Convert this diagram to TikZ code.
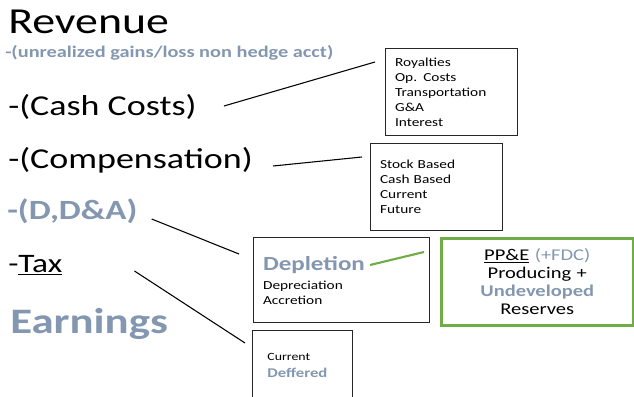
\documentclass[tikz,border=0pt]{standalone}
\usepackage{fontspec}
\setmainfont[FakeStretch=1.25]{Carlito}
\definecolor{slate}{HTML}{8497B0}
\definecolor{leaf}{HTML}{70AD47}
\tikzset{
  item/.style={anchor=base west, inner sep=0pt},
  soft/.style={text=slate},
  listbox/.style={draw=black!85, line width=1.1pt, anchor=north west,
    align=left, inner xsep=7pt, inner ysep=0pt},
  link/.style={line width=0.8pt},
}
\begin{document}
\begin{tikzpicture}[x=0.75pt,y=-0.75pt]
\useasboundingbox (0,0) rectangle (634,396);
% income statement lines
\node[item, font=\fontsize{27.5}{30}\selectfont] (rev) at (8,33) {Revenue};
\node[item, soft, font=\fontsize{12.2}{14}\selectfont\bfseries] (unreal) at (5,57)
{-(unrealized gains/loss non hedge acct)};
\node[item, font=\fontsize{21.6}{26}\selectfont] (cash) at (8,115) {-(Cash Costs)};
\node[item, font=\fontsize{21.6}{26}\selectfont] (comp) at (8,168) {-(Compensation)};
\node[item, soft, font=\fontsize{20.9}{25}\selectfont\bfseries] (dda) at (7,219) {-(D,D\&A)};
\node[item, font=\fontsize{20}{24}\selectfont] (tax) at (8,272) {-\underline{Tax}};
\node[item, soft, font=\fontsize{26.9}{30}\selectfont\bfseries] (earn) at (10,333) {Earnings};
% detail boxes
\node[listbox, minimum width=99pt, minimum height=65.25pt, text width=85pt,
  font=\fontsize{9.2}{11.25}\selectfont] (roy) at (385,48)
{Royalties\\Op. Costs\\Transportation\\G\&A\\Interest};
\node[listbox, minimum width=99pt, minimum height=65.25pt, text width=85pt,
  font=\fontsize{9.2}{11.25}\selectfont] (stock) at (370,143)
{Stock Based\\Cash Based\\Current\\Future};
\node[listbox, minimum width=132pt, minimum height=63.75pt, text width=118pt,
  font=\fontsize{9.2}{11.25}\selectfont] (depl) at (253,237)
{{\color{slate}\fontsize{15}{15}\selectfont\bfseries Depletion}\\[3pt]Depreciation\\Accretion};
\node[listbox, draw=leaf, line width=1.9pt, minimum width=144pt, minimum height=65.25pt,
  text width=130pt, align=center, font=\fontsize{12.3}{13.5}\selectfont] (ppe) at (440,237)
{\underline{PP\&E} {\color{slate}(+FDC)}\\Producing +\\{\color{slate}\bfseries Undeveloped}\\Reserves};
\node[listbox, minimum width=75pt, minimum height=52.5pt, text width=53pt, inner xsep=11pt,
  font=\fontsize{8.3}{12.75}\selectfont] (taxbox) at (252,330)
{Current\\{\color{slate}\fontsize{10}{12.75}\selectfont\bfseries Deffered}};
% links
\draw[link] ([shift={(27,-9)}]cash.base east) -- ([shift={(-10,14)}]roy.north west);
\draw[link] ([shift={(20,-2)}]comp.base east) -- ([shift={(-8,14)}]stock.north west);
\draw[link] ([shift={(14,0)}]dda.base east) -- ([shift={(-14,17)}]depl.north west);
\draw[link] ([shift={(72,-1)}]tax.base east) -- ([shift={(-7,13)}]taxbox.north west);
\draw[leaf, line width=1.6pt] ([shift={(117,28)}]depl.north west) -- ([shift={(-16,15)}]ppe.north west);
\end{tikzpicture}
\end{document}
